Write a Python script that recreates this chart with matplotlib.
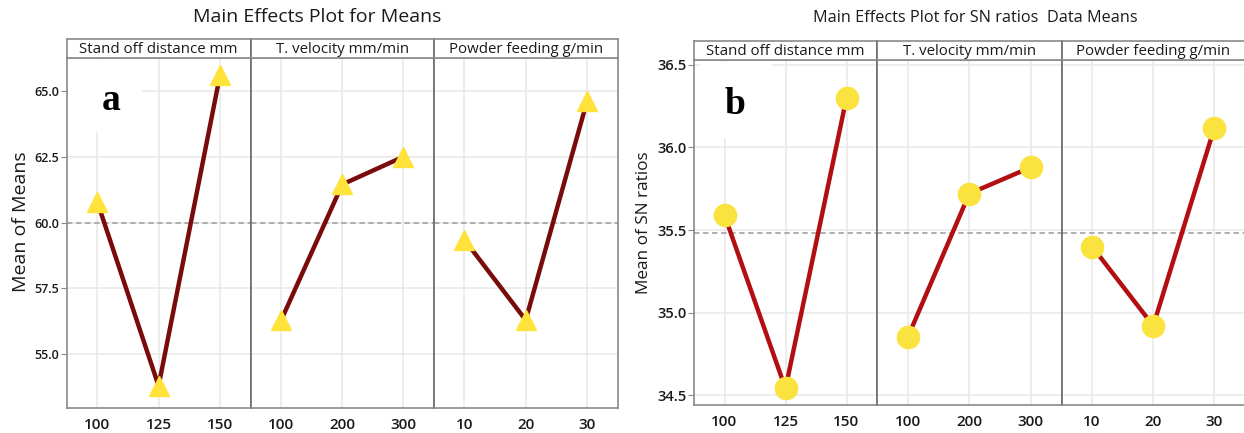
import matplotlib
matplotlib.use('Agg')
import matplotlib.pyplot as plt
from matplotlib.patches import Rectangle

# dados
fatores = ['Stand off distance mm', 'T. velocity mm/min', 'Powder feeding g/min']
niveis = [['100', '125', '150'], ['100', '200', '300'], ['10', '20', '30']]

medias_a = [[60.8, 53.8, 65.6],
            [56.3, 61.45, 62.5],
            [59.35, 56.3, 64.6]]
media_geral_a = 60.0
yticks_a = [55.0, 57.5, 60.0, 62.5, 65.0]

sn_b = [[35.59, 34.54, 36.30],
        [34.85, 35.72, 35.88],
        [35.40, 34.92, 36.12]]
media_geral_b = 35.48
yticks_b = [34.5, 35.0, 35.5, 36.0, 36.5]

W, H = 1244, 433
plt.rcParams['font.family'] = ['Open Sans', 'DejaVu Sans']
texto = '#1a1a1a'

fig = plt.figure(figsize=(W / 100, H / 100), dpi=100)


def eixo_px(x0, y0, x1, y1):
    return fig.add_axes([x0 / W, 1 - y1 / H, (x1 - x0) / W, (y1 - y0) / H])


def desenhar(bordas, y_topo, y_faixa, y_base, valores, media, yticks, ylim,
             cor_linha, cor_marc, marcador, tam_marc, fs_ytick):
    eixos = []
    for i in range(3):
        x0, x1 = bordas[i], bordas[i + 1]
        ax = eixo_px(x0, y_faixa, x1, y_base)
        xs = range(len(niveis[i]))
        ax.plot(xs, valores[i], color=cor_linha, lw=3.2, zorder=3,
                solid_capstyle='butt')
        ax.plot(xs, valores[i], linestyle='none', marker=marcador,
                ms=tam_marc, mfc=cor_marc, mec=cor_marc, zorder=4)
        ax.axhline(media, color='#a8a8a8', lw=1.3, ls=(0, (3, 2)), zorder=2)
        ax.set_xlim(-0.5, 2.5)
        ax.set_ylim(*ylim)
        ax.set_xticks(list(xs))
        ax.set_xticklabels(niveis[i], fontsize=11, fontweight='semibold')
        ax.set_yticks(yticks)
        ax.grid(True, color='#e8e8e8', lw=1.1, zorder=0)
        ax.set_axisbelow(True)
        ax.tick_params(axis='x', length=0, pad=7, colors=texto)
        for s in ax.spines.values():
            s.set_color('#8a8a8a')
            s.set_linewidth(1.2)
        if i == 0:
            ax.set_yticklabels([f'{t:.1f}' for t in yticks],
                               fontsize=fs_ytick, fontweight='semibold')
            ax.tick_params(axis='y', length=4, color='#8a8a8a', pad=1,
                           labelcolor=texto)
        else:
            ax.tick_params(axis='y', length=0, labelleft=False)
            ax.spines['left'].set_color('#6a6a6a')
        # faixa do titulo do fator
        fx = eixo_px(x0, y_topo, x1, y_faixa)
        fx.set_xticks([])
        fx.set_yticks([])
        for s in fx.spines.values():
            s.set_color('#8a8a8a')
            s.set_linewidth(1.2)
        if i > 0:
            fx.spines['left'].set_color('#6a6a6a')
        fx.text(0.5, 0.42, fatores[i], ha='center', va='center',
                fontsize=10.8, color=texto)
        eixos.append(ax)
    return eixos


# grafico a
desenhar([66.5, 250.7, 433.8, 617.6], 39, 57.5, 408.3, medias_a, media_geral_a,
         yticks_a, (52.95, 66.27), '#7a0b0b', '#ffe33a', '^', 15, 9)
fig.text(317 / W, 1 - 17 / H, 'Main Effects Plot for Means', ha='center',
         va='center', fontsize=14, color=texto)
fig.text(21 / W, 1 - 222 / H, 'Mean of Means', rotation=90, ha='center',
         va='center', fontsize=14, color=texto)
fig.patches.append(Rectangle((68 / W, 1 - 132 / H), 74 / W, 73 / H,
                             transform=fig.transFigure, facecolor='white',
                             edgecolor='none', zorder=5))
fig.text(111 / W, 1 - 100 / H, 'a', ha='center', va='center', fontsize=27,
         fontweight='bold', family='Liberation Serif', zorder=6)

# grafico b
desenhar([694, 877, 1061.5, 1245], 40.5, 60, 405, sn_b, media_geral_b,
         yticks_b, (34.44, 36.53), '#b30f12', '#fae33e', 'o', 16, 10.5)
fig.text(975 / W, 1 - 18 / H, 'Main Effects Plot for SN ratios  Data Means',
         ha='center', va='center', fontsize=11.7, color=texto)
fig.text(644 / W, 1 - 223 / H, 'Mean of SN ratios', rotation=90, ha='center',
         va='center', fontsize=12.3, color=texto)
fig.patches.append(Rectangle((700 / W, 1 - 138 / H), 72 / W, 76 / H,
                             transform=fig.transFigure, facecolor='white',
                             edgecolor='none', zorder=5))
fig.text(735 / W, 1 - 105 / H, 'b', ha='center', va='center', fontsize=27,
         fontweight='bold', family='Liberation Serif', zorder=6)

fig.savefig('out.png', dpi=100)
